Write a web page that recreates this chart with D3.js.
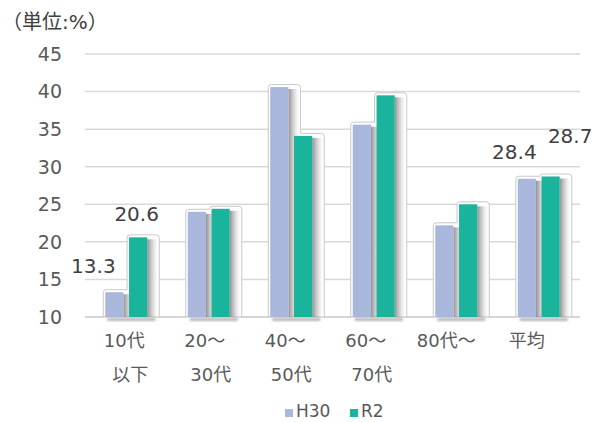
<!DOCTYPE html>
<html>
<head>
<meta charset="utf-8">
<script src="https://cdn.jsdelivr.net/npm/d3@7"></script>
<style>
  html, body { margin: 0; padding: 0; background: #fff; }
  svg { display: block; font-family: "DejaVu Sans", "Noto Sans CJK JP", sans-serif; }
</style>
</head>
<body>
<svg id="chart" width="595" height="422"></svg>
<script>
// Age groups (two-line axis labels)
const categories = ["10代以下", "20～30代", "40～50代", "60～70代", "80代～", "平均"];
const categoryLines = [["10代", "以下"], ["20～", "30代"], ["40～", "50代"], ["60～", "70代"], ["80代～"], ["平均"]];
const seriesNames = ["H30", "R2"];
const valuesH30 = [13.3, 24.0, 40.6, 35.6, 22.2, 28.4];
const valuesR2  = [20.6, 24.4, 34.1, 39.5, 25.0, 28.7];
const yTicks = [10, 15, 20, 25, 30, 35, 40, 45];
const unitLabel = "（単位:%）";
// Which bars carry a value label: [series index, category index]
const labelled = [[0, 0], [1, 0], [0, 5], [1, 5]];

const colors = { H30: "#a9b7dc", R2: "#1ab39b" };
// hand-placed label offsets (dx from bar centre, dy above bar top)
const labelNudge = [[-21, 19], [-1.5, 16], [-12.5, 20], [19.5, 33]];

const svg = d3.select("#chart");
const x = d3.scaleBand().domain(categories).range([85, 580]).padding(0);
const xSub = d3.scaleBand().domain(seriesNames).range([-21, 21]).paddingInner(0.235).paddingOuter(0);
const y = d3.scaleLinear().domain([10, 45]).range([317, 54]);

const series = seriesNames.map((name, si) => ({ name, values: si === 0 ? valuesH30 : valuesR2 }));
const center = c => x(c) + x.bandwidth() / 2;

const defs = svg.append("defs");
const grad = defs.append("linearGradient").attr("id", "shade").attr("x1", 0).attr("x2", 1).attr("y1", 0).attr("y2", 0);
grad.append("stop").attr("offset", 0).attr("stop-color", "#7d7d7d").attr("stop-opacity", 0.85);
grad.append("stop").attr("offset", 0.45).attr("stop-color", "#b5b5b5").attr("stop-opacity", 0.55);
grad.append("stop").attr("offset", 1).attr("stop-color", "#ffffff").attr("stop-opacity", 0);
defs.append("filter").attr("id", "soft").attr("x", "-20%").attr("y", "-50%").attr("width", "140%").attr("height", "200%")
  .append("feGaussianBlur").attr("stdDeviation", 1.2);
defs.append("filter").attr("id", "glow").append("feGaussianBlur").attr("stdDeviation", 0.35);

// Gridlines
svg.append("g").selectAll("line").data(yTicks).join("line")
  .attr("x1", 85).attr("x2", 580)
  .attr("y1", d => y(d)).attr("y2", d => y(d))
  .attr("stroke", "#d9d9d9").attr("stroke-width", 1.5);

// Y tick labels
svg.append("g").selectAll("text").data(yTicks).join("text")
  .attr("x", 62).attr("y", d => y(d)).attr("dy", "0.36em")
  .attr("text-anchor", "end").attr("fill", "#595959").attr("font-size", 19)
  .text(d => d);

// Soft outline around each group of bars
const outline = svg.append("g");
categories.forEach((c, ci) => {
  const cx = center(c);
  const bars = series.map(s => ({
    x0: cx + xSub(s.name) - 2,
    x1: cx + xSub(s.name) + xSub.bandwidth() + 12,
    top: y(s.values[ci]) - 2.5
  }));
  const base = y(10) + 1;
  const [a, b] = bars;
  let d;
  if (a.top <= b.top) {
    d = `M${a.x0},${base} L${a.x0},${a.top + 3} Q${a.x0},${a.top} ${a.x0 + 3},${a.top} L${a.x1 - 3},${a.top} Q${a.x1},${a.top} ${a.x1},${a.top + 3} L${a.x1},${b.top} L${b.x1 - 3},${b.top} Q${b.x1},${b.top} ${b.x1},${b.top + 3} L${b.x1},${base}`;
  } else {
    d = `M${a.x0},${base} L${a.x0},${a.top + 3} Q${a.x0},${a.top} ${a.x0 + 3},${a.top} L${b.x0},${a.top} L${b.x0},${b.top + 3} Q${b.x0},${b.top} ${b.x0 + 3},${b.top} L${b.x1 - 3},${b.top} Q${b.x1},${b.top} ${b.x1},${b.top + 3} L${b.x1},${base}`;
  }
  outline.append("path").attr("d", d).attr("fill", "#ffffff")
    .attr("stroke", "#c8c8c8").attr("stroke-width", 1).attr("filter", "url(#glow)");
});

// Axis line at the base
svg.append("line").attr("x1", 85).attr("x2", 580).attr("y1", y(10)).attr("y2", y(10))
  .attr("stroke", "#d0d0d0").attr("stroke-width", 1.5);

// Bars with their side shading and ground shadow
const groups = svg.append("g").selectAll("g").data(series).join("g");
groups.selectAll("rect.shade").data(s => s.values.map((v, i) => ({ s: s.name, v, c: categories[i] }))).join("rect")
  .attr("class", "shade")
  .attr("x", d => center(d.c) + xSub(d.s) + xSub.bandwidth())
  .attr("y", d => y(d.v) + 2)
  .attr("width", 12)
  .attr("height", d => y(10) - y(d.v) - 2)
  .attr("fill", "url(#shade)");
groups.selectAll("rect.ground").data(s => s.values.map((v, i) => ({ s: s.name, v, c: categories[i] }))).join("rect")
  .attr("class", "ground")
  .attr("x", d => center(d.c) + xSub(d.s) + 2)
  .attr("y", y(10) + 1)
  .attr("width", xSub.bandwidth() + 6)
  .attr("height", 3)
  .attr("fill", "#9a9a9a").attr("opacity", 0.7).attr("filter", "url(#soft)");
groups.selectAll("rect.bar").data(s => s.values.map((v, i) => ({ s: s.name, v, c: categories[i] }))).join("rect")
  .attr("class", "bar")
  .attr("x", d => center(d.c) + xSub(d.s))
  .attr("y", d => y(d.v))
  .attr("width", xSub.bandwidth())
  .attr("height", d => y(10) - y(d.v))
  .attr("fill", d => colors[d.s]);

// Value labels
svg.append("g").selectAll("text").data(labelled).join("text")
  .attr("x", (d, i) => center(categories[d[1]]) + xSub(seriesNames[d[0]]) + xSub.bandwidth() / 2 + labelNudge[i][0])
  .attr("y", (d, i) => y(series[d[0]].values[d[1]]) - labelNudge[i][1])
  .attr("text-anchor", "middle").attr("fill", "#404040").attr("font-size", 20)
  .text(d => series[d[0]].values[d[1]].toFixed(1));

// Category labels
const catG = svg.append("g").selectAll("text").data(categoryLines).join("text")
  .attr("text-anchor", "middle").attr("fill", "#595959").attr("font-size", 18);
catG.selectAll("tspan").data((lines, i) => lines.map((t, j) => ({ t, j, i }))).join("tspan")
  .attr("x", d => center(categories[d.i]) - 2 - 2 * d.i + (d.j ? 6 : 0))
  .attr("y", d => 347 + d.j * 34)
  .text(d => d.t);

// Unit label
svg.append("text").attr("x", 2).attr("y", 29).attr("fill", "#404040").attr("font-size", 20).text(unitLabel);

// Legend
const legend = svg.append("g");
const legendX = [285, 350];
seriesNames.forEach((name, i) => {
  legend.append("rect").attr("x", legendX[i]).attr("y", 409).attr("width", 8).attr("height", 8).attr("fill", colors[name]);
  legend.append("text").attr("x", legendX[i] + 11).attr("y", 417).attr("fill", "#595959").attr("font-size", 17).text(name);
});
</script>
</body>
</html>
